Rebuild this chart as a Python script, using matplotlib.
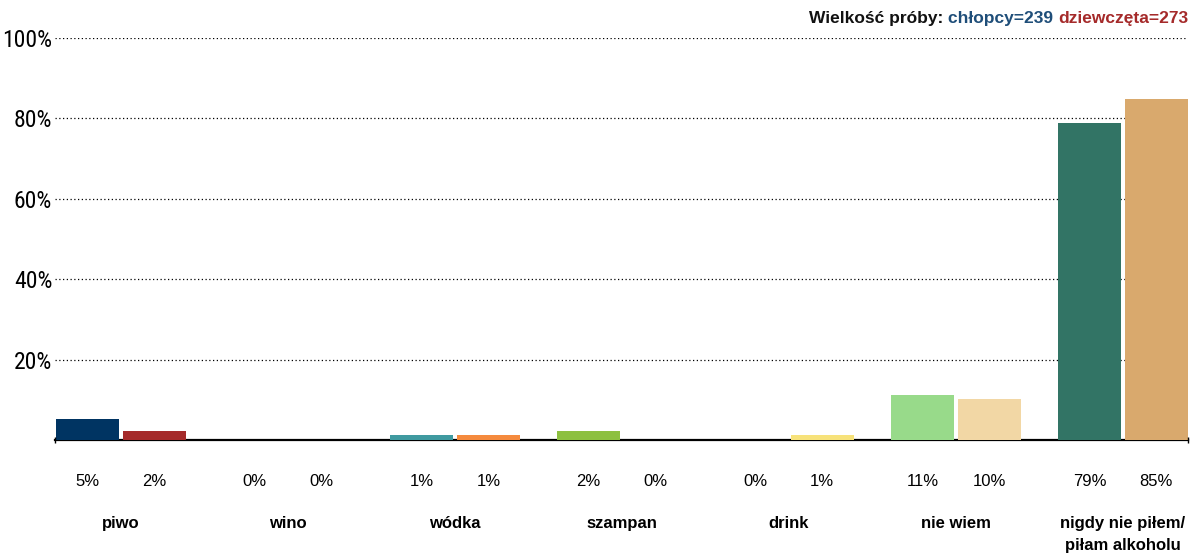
import matplotlib.pyplot as plt
import numpy as np

categories = ['piwo', 'wino', 'wódka', 'szampan', 'drink', 'nie wiem',
              'nigdy nie piłem/\npiłam alkoholu']
boys = [5.2, 0, 1.3, 2.2, 0, 11.2, 78.9]
girls = [2.2, 0, 1.3, 0, 1.3, 10.2, 84.8]
boys_labels = ['5%', '0%', '1%', '2%', '0%', '11%', '79%']
girls_labels = ['2%', '0%', '1%', '0%', '1%', '10%', '85%']
boys_colors = ['#003462', '#5b7fa6', '#3f9aa0', '#8dc040', '#c9b13a', '#98da8a', '#327465']
girls_colors = ['#a52a2a', '#c96b6b', '#f58a3d', '#e0a060', '#f7e27a', '#f2d7a5', '#d9a96d']
yticks = [20, 40, 60, 80, 100]

plt.rcParams['font.family'] = ['Liberation Sans', 'DejaVu Sans']

fig = plt.figure(figsize=(11.92, 5.58), dpi=100)
ax = fig.add_axes([55 / 1192, 1 - 440 / 558, (1188 - 55) / 1192, (440 - 38) / 558])

x = np.arange(len(categories))
w = 0.377
ax.bar(x - 0.2, boys, width=w, color=boys_colors, zorder=3)
ax.bar(x + 0.2, girls, width=w, color=girls_colors, zorder=3)

ax.set_xlim(-0.395, 6.39)
ax.set_ylim(0, 100)
ax.set_yticks(yticks)
ax.set_yticklabels([f'{t}%' for t in yticks],
                   family=['Roboto Condensed', 'DejaVu Sans'],
                   fontstretch='condensed', fontsize=17)
ax.tick_params(axis='y', length=0, pad=2)
ax.set_xticks([])
for t in yticks:
    ax.axhline(t, color='black', lw=0.9, ls=(0, (1, 2)), zorder=1)

for s in ['top', 'right', 'left']:
    ax.spines[s].set_visible(False)
ax.spines['bottom'].set_linewidth(1.6)
ax.plot([-0.395, 6.39], [0, 0], ls='none', marker='|', ms=5, color='black',
        clip_on=False, zorder=4)

for i in range(len(categories)):
    ax.text(x[i] - 0.2, -10.2, boys_labels[i], ha='center', va='center', fontsize=12)
    ax.text(x[i] + 0.2, -10.2, girls_labels[i], ha='center', va='center', fontsize=12)
    ax.text(x[i], -18.9, categories[i], ha='center', va='top', fontsize=12,
            fontweight='bold', linespacing=1.55)

ty = 1 - 18 / 558
t3 = fig.text(1188 / 1192, ty, 'dziewczęta=273', ha='right', va='center',
              fontsize=12.5, fontweight='bold', color='#a52a2a')
t2 = fig.text(0, 0, 'chłopcy=239 ', ha='right', va='center', fontsize=12.5,
              fontweight='bold', color='#1f4e79')
t1 = fig.text(0, 0, 'Wielkość próby: ', ha='right', va='center', fontsize=12.5,
              fontweight='bold', color='#111111')
fig.canvas.draw()
r = fig.canvas.get_renderer()
bb3 = t3.get_window_extent(r).transformed(fig.transFigure.inverted())
t2.set_position((bb3.x0, ty))
fig.canvas.draw()
bb2 = t2.get_window_extent(r).transformed(fig.transFigure.inverted())
t1.set_position((bb2.x0, ty))

fig.savefig('out.png', dpi=100)
